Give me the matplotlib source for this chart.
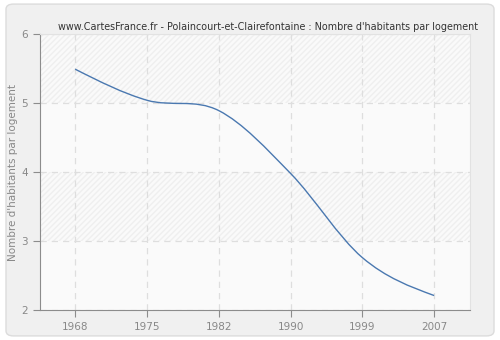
import matplotlib
matplotlib.use("Agg")
import matplotlib.pyplot as plt
import numpy as np
from matplotlib.path import Path
from matplotlib.patches import PathPatch, FancyBboxPatch

years = ["1968", "1975", "1982", "1990", "1999", "2007"]
values = [5.49, 5.04, 4.89, 3.98, 2.76, 2.21]
yticks = [2, 3, 4, 5, 6]
title = "www.CartesFrance.fr - Polaincourt-et-Clairefontaine : Nombre d'habitants par logement"
ylabel = "Nombre d'habitants par logement"

fig = plt.figure(figsize=(5, 3.4), dpi=100, facecolor="white")
bg = FancyBboxPatch((0.012, 0.012), 0.976, 0.976, boxstyle="round,pad=0,rounding_size=0.015",
                    transform=fig.transFigure, facecolor="#f0f0f0", edgecolor="#dcdcdc",
                    linewidth=1, zorder=-10)
fig.add_artist(bg)

ax = fig.add_axes([0.08, 0.0882, 0.86, 0.8118])
ax.set_zorder(1)
ax.set_facecolor("#fafafa")
x = np.arange(len(years))
ax.set_xlim(-0.49, 5.5)
ax.set_ylim(2, 6)

# alternating hatched bands
for lo in (3, 5):
    ax.axhspan(lo, lo + 1, facecolor="#fafafa", edgecolor="#efefef", hatch="//////",
               linewidth=0, zorder=0)

# smooth curve through the points (cubic Bezier, Catmull-Rom tangents)
px = x.astype(float)
py = np.array(values, dtype=float)
n = len(px)
d = np.diff(py) / np.diff(px)
m = np.zeros(n)
for i in range(1, n - 1):
    m[i] = (py[i + 1] - py[i - 1]) / (px[i + 1] - px[i - 1])
m[0] = (3 * d[0] - m[1]) / 2
m[-1] = (3 * d[-1] - m[-2]) / 2
verts = [(px[0], py[0])]
codes = [Path.MOVETO]
for i in range(n - 1):
    h = px[i + 1] - px[i]
    verts += [(px[i] + h / 3, py[i] + m[i] * h / 3),
              (px[i + 1] - h / 3, py[i + 1] - m[i + 1] * h / 3),
              (px[i + 1], py[i + 1])]
    codes += [Path.CURVE4] * 3
ax.add_patch(PathPatch(Path(verts, codes), facecolor="none", edgecolor="#4a78b0",
                       linewidth=1.0, zorder=3))

ax.set_xticks(x)
ax.set_xticklabels(years)
ax.set_yticks(yticks)
ax.grid(True, color="#dedede", linestyle=(0, (5, 4)), linewidth=0.9, zorder=1)
ax.set_axisbelow(True)

for s in ("top", "right"):
    ax.spines[s].set_color("#e2e2e2")
for s in ("left", "bottom"):
    ax.spines[s].set_color("#8c8c8c")
ax.tick_params(axis="both", colors="#8c8c8c", labelcolor="#888888", labelsize=7.5,
               length=5, width=0.8)
ax.set_ylabel(ylabel, color="#888888", fontsize=7.5)
ax.yaxis.set_label_coords(-0.051, 0.5)
fig.text(0.535, 0.905, title, ha="center", va="bottom", fontsize=6.9, color="#333333")

fig.savefig("out.png", dpi=100, facecolor="white")
